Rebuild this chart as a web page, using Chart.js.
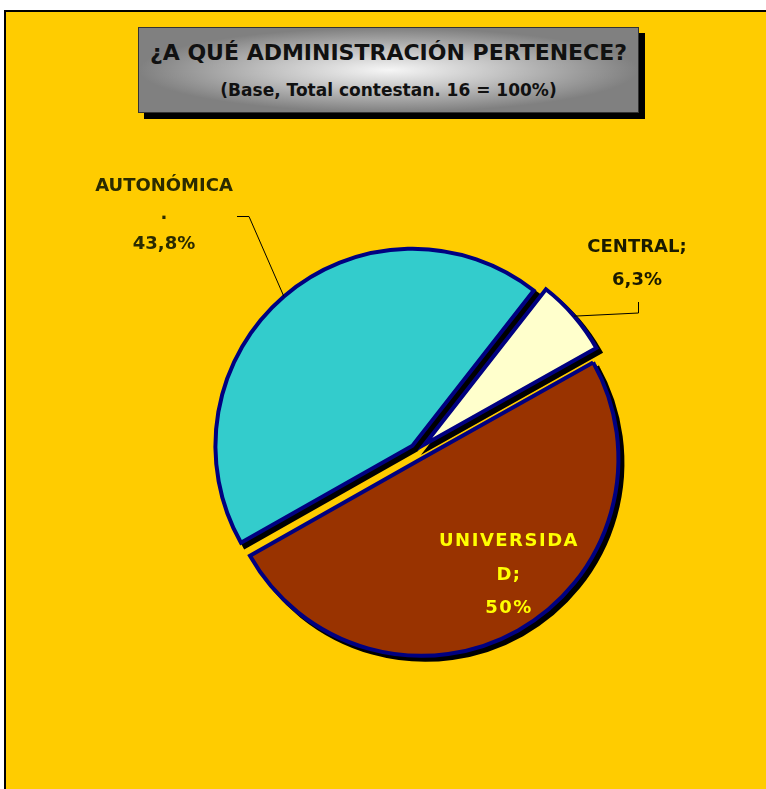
<!DOCTYPE html>
<html>
<head>
<meta charset="utf-8">
<script src="https://cdn.jsdelivr.net/npm/chart.js@4.4.1/dist/chart.umd.min.js"></script>
<style>
  body { margin: 0; background: #fff; overflow: hidden; width: 766px; height: 789px; position: relative; }
  #frame { position: absolute; left: 4px; top: 10px; width: 770px; height: 800px; background: #FFCC00; border-left: 2px solid #000; border-top: 2px solid #000; }
  #titleBox {
    position: absolute; left: 138px; top: 27px; width: 499px; height: 84px;
    border: 1px solid #333;
    background: radial-gradient(ellipse farthest-side at 50% 50%, #f6f6f6 0%, #c4c4c4 45%, #808080 100%);
    box-shadow: 6px 6px 0 #000;
    font-family: "Comic Sans MS", "DejaVu Sans", sans-serif; font-weight: bold; color: #111;
    text-align: center;
  }
  #titleBox .t1 { position: absolute; left: 0; right: 0; top: 10px; font-size: 22px; line-height: 30px; }
  #titleBox .t2 { position: absolute; left: 0; right: 0; top: 50px; font-size: 17px; line-height: 24px; }
  #wrap { position: absolute; left: 0; top: 0; width: 766px; height: 789px; }
</style>
</head>
<body>
<div id="frame"></div>
<div id="titleBox">
  <div class="t1">¿A QUÉ ADMINISTRACIÓN PERTENECE?</div>
  <div class="t2">(Base, Total contestan. 16 = 100%)</div>
</div>
<div id="wrap"><canvas id="pieChart"></canvas></div>
<script>
// Datos
const categorias = ['AUTONÓMICA', 'CENTRAL', 'UNIVERSIDAD'];
const porcentajes = [43.8, 6.3, 50];
const textosValor = ['43,8%', '6,3%', '50%'];

const colores = ['#33CCCC', '#FFFFCC', '#993300'];
const explosion = [7, 10, 9]; // px que se separa cada porción
const fuente = '"Comic Sans MS", "DejaVu Sans", sans-serif';

// punto del borde exterior en el ángulo medio de la porción
function bordeMedio(arc, i) {
  const mid = (arc.startAngle + arc.endAngle) / 2;
  const d = arc.outerRadius + explosion[i];
  return { x: arc.x + Math.cos(mid) * d, y: arc.y + Math.sin(mid) * d };
}

// ====== Porciones separadas con sombra ======
const tartaExplotada = {
  id: 'tartaExplotada',
  beforeDatasetDraw(chart, args) {
    const ctx = chart.ctx;
    const arcs = args.meta.data;
    // sombra
    arcs.forEach((arc, i) => {
      const mid = (arc.startAngle + arc.endAngle) / 2;
      ctx.save();
      ctx.translate(Math.cos(mid) * explosion[i] + 4, Math.sin(mid) * explosion[i] + 4);
      const orig = arc.options;
      arc.options = Object.assign({}, orig, { backgroundColor: '#000', borderColor: '#000' });
      arc.draw(ctx);
      arc.options = orig;
      ctx.restore();
    });
    // porciones
    arcs.forEach((arc, i) => {
      const mid = (arc.startAngle + arc.endAngle) / 2;
      ctx.save();
      ctx.translate(Math.cos(mid) * explosion[i], Math.sin(mid) * explosion[i]);
      arc.draw(ctx);
      ctx.restore();
    });
    return false;
  }
};

// ====== Etiquetas y líneas guía ======
const etiquetas = {
  id: 'etiquetas',
  afterDatasetsDraw(chart) {
    const ctx = chart.ctx;
    const arcs = chart.getDatasetMeta(0).data;
    const lineas = [
      [categorias[0], '.', textosValor[0]],
      [categorias[1] + ';', textosValor[1]],
      [categorias[2].slice(0, 10), categorias[2].slice(10) + ';', textosValor[2]]
    ];
    const pos = [
      { x: 164, y: [186, 214, 244], color: '#2b2b00', esp: '0px' },
      { x: 637, y: [247, 280], color: '#1a1a00', esp: '0px' },
      { x: 509, y: [541, 575, 608], color: '#FFFF00', esp: '1.5px' }
    ];

    ctx.save();
    ctx.strokeStyle = '#000';
    ctx.lineWidth = 1;
    // guía AUTONÓMICA
    let p = bordeMedio(arcs[0], 0);
    ctx.beginPath();
    ctx.moveTo(237, 216.5);
    ctx.lineTo(249, 216.5);
    ctx.lineTo(p.x, p.y);
    ctx.stroke();
    // guía CENTRAL
    p = bordeMedio(arcs[1], 1);
    ctx.beginPath();
    ctx.moveTo(638.5, 302);
    ctx.lineTo(638.5, 313);
    ctx.lineTo(p.x, p.y);
    ctx.stroke();

    ctx.font = 'bold 18px ' + fuente;
    ctx.textAlign = 'center';
    ctx.textBaseline = 'middle';
    lineas.forEach((ls, i) => {
      ctx.fillStyle = pos[i].color;
      ctx.letterSpacing = pos[i].esp;
      ls.forEach((t, j) => ctx.fillText(t, pos[i].x, pos[i].y[j]));
    });
    ctx.restore();
  }
};

document.addEventListener('DOMContentLoaded', function() {
  const ctx = document.getElementById('pieChart').getContext('2d');
  new Chart(ctx, {
    type: 'pie',
    data: {
      labels: categorias,
      datasets: [{
        data: porcentajes,
        backgroundColor: colores,
        borderColor: '#000080',
        borderWidth: 4,
        borderJoinStyle: 'miter'
      }]
    },
    options: {
      responsive: true,
      maintainAspectRatio: false,
      animation: false,
      rotation: 240.5,
      layout: { padding: { left: 218, right: 150, top: 252, bottom: 139 } },
      plugins: { legend: { display: false }, tooltip: { enabled: false } }
    },
    plugins: [tartaExplotada, etiquetas]
  });
});
</script>
</body>
</html>
